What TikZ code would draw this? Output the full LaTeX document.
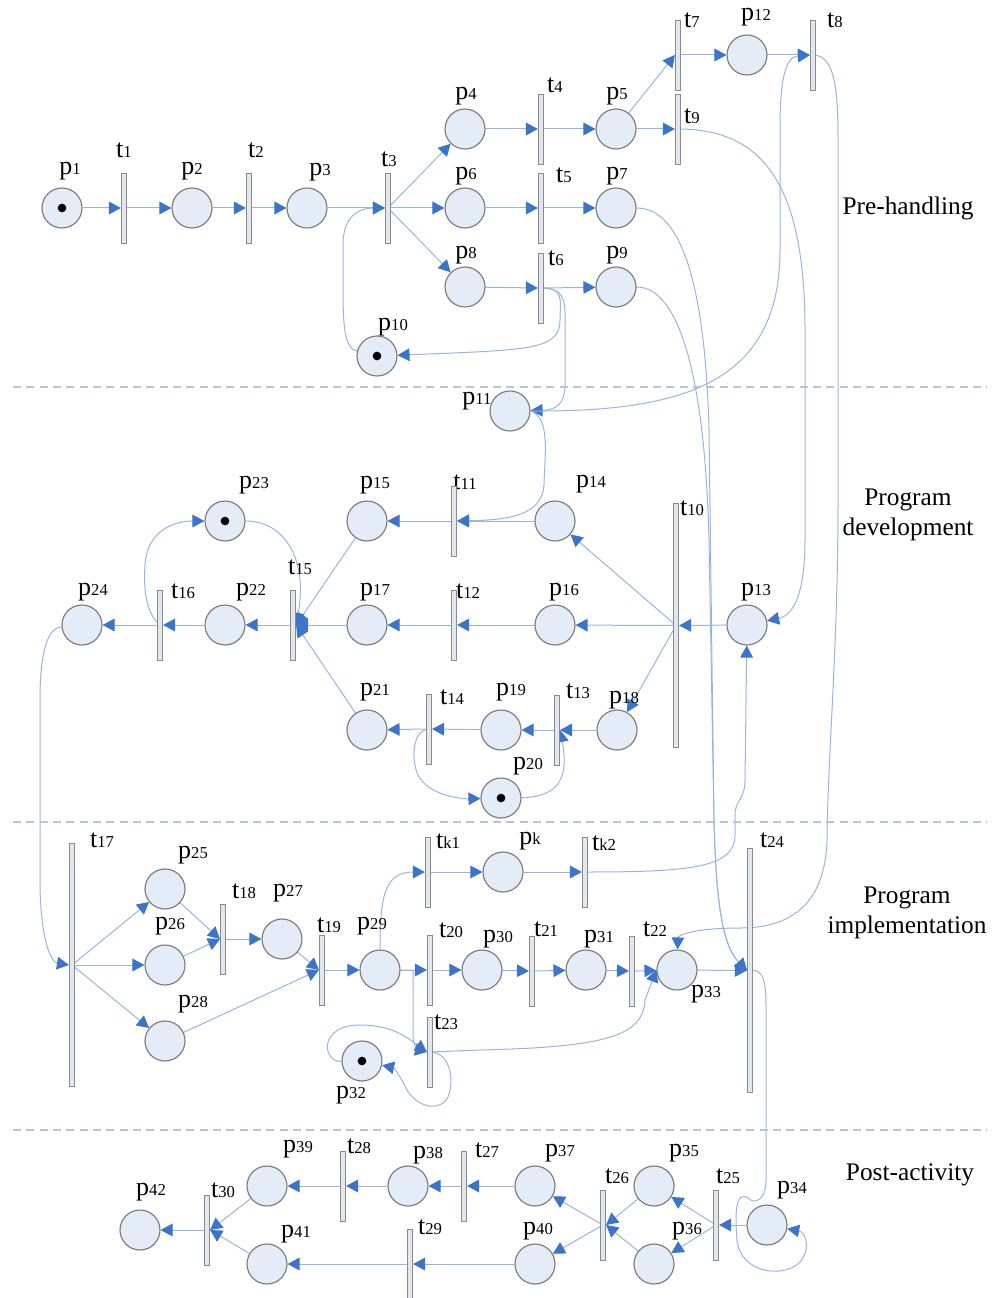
\documentclass[tikz,border=0pt]{standalone}
\usepackage{fontspec}
\setmainfont{Liberation Serif}
\usetikzlibrary{arrows.meta}
\pgfdeclarelayer{bg}
\pgfsetlayers{bg,main}
\definecolor{placefill}{HTML}{E4ECF7}
\definecolor{placeborder}{HTML}{7A7A7A}
\definecolor{transfill}{HTML}{E2E6EE}
\definecolor{transborder}{HTML}{8A8A8A}
\definecolor{arccol}{HTML}{98B5DF}
\definecolor{tipcol}{HTML}{3B74CA}
\definecolor{sepcol}{HTML}{B4C6DC}
\newcommand{\mysb}[1]{{\fontsize{12.5}{12.5}\selectfont #1}}
\begin{document}
\begin{tikzpicture}[x=0.75pt,y=-0.75pt,
  place/.style={circle, draw=placeborder, fill=placefill, line width=0.85pt, minimum size=30pt, inner sep=0pt},
  trans/.style={rectangle, draw=transborder, fill=transfill, line width=0.6pt, minimum width=4pt, minimum height=52.5pt, inner sep=0pt},
  longtrans/.style={trans, minimum height=182.5pt},
  tok/.style={circle, fill=black, minimum size=6.5pt, inner sep=0pt},
  arc/.style={draw=arccol, line width=0.75pt, -{Triangle[length=9pt,width=9.5pt,color=tipcol]}},
  lbl/.style={inner sep=0pt, font=\fontsize{19.5}{22}\selectfont},
  sect/.style={inner sep=0pt, align=center, font=\fontsize{19}{22.5}\selectfont},
  sep/.style={draw=sepcol, line width=0.8pt, dash pattern=on 6pt off 4pt}]
\useasboundingbox (0,0) rectangle (1003,1298);

% separators
\coordinate (s1a) at (13,387);  \coordinate (s1b) at (987,387);
\coordinate (s2a) at (13,822);  \coordinate (s2b) at (987,822);
\coordinate (s3a) at (13,1130); \coordinate (s3b) at (987,1130);
\draw[sep] (s1a) -- (s1b);
\draw[sep] (s2a) -- (s2b);
\draw[sep] (s3a) -- (s3b);

% section titles
\node[sect] (sec1) at (908,208) {Pre-handling};
\node[sect] (sec2) at (908,515) {Program\\development};
\node[sect] (sec3) at (907,913) {Program\\implementation};
\node[sect] (sec4) at (910,1175) {Post-activity};

% labels
\node[lbl] (lp1) at (70,171) {p\mysb{1}};
\node[lbl] (lt1) at (124,150) {t\mysb{1}};
\node[lbl] (lp2) at (192,171) {p\mysb{2}};
\node[lbl] (lt2) at (256,150) {t\mysb{2}};
\node[lbl] (lp3) at (320,172) {p\mysb{3}};
\node[lbl] (lt3) at (389,159) {t\mysb{3}};
\node[lbl] (lp4) at (466,96) {p\mysb{4}};
\node[lbl] (lp6) at (466,176) {p\mysb{6}};
\node[lbl] (lp8) at (466,255) {p\mysb{8}};
\node[lbl] (lp10) at (393,327) {p\mysb{10}};
\node[lbl] (lt4) at (555,85) {t\mysb{4}};
\node[lbl] (lp5) at (617,96) {p\mysb{5}};
\node[lbl] (lt5) at (564,175) {t\mysb{5}};
\node[lbl] (lp7) at (617,176) {p\mysb{7}};
\node[lbl] (lt6) at (556,258) {t\mysb{6}};
\node[lbl] (lp9) at (617,255) {p\mysb{9}};
\node[lbl] (lt7) at (692,20) {t\mysb{7}};
\node[lbl] (lp12) at (756,17) {p\mysb{12}};
\node[lbl] (lt8) at (835,20) {t\mysb{8}};
\node[lbl] (lt9) at (692,116) {t\mysb{9}};
\node[lbl] (lp11) at (477,401) {p\mysb{11}};
\node[lbl] (lp23) at (254,485) {p\mysb{23}};
\node[lbl] (lp15) at (375,485) {p\mysb{15}};
\node[lbl] (lt11) at (465,482) {t\mysb{11}};
\node[lbl] (lt15) at (300,567) {t\mysb{15}};
\node[lbl] (lp24) at (93,592) {p\mysb{24}};
\node[lbl] (lt16) at (183,591) {t\mysb{16}};
\node[lbl] (lp22) at (251,592) {p\mysb{22}};
\node[lbl] (lp17) at (375,592) {p\mysb{17}};
\node[lbl] (lt12) at (468,591) {t\mysb{12}};
\node[lbl] (lp21) at (375,692) {p\mysb{21}};
\node[lbl] (lt14) at (452,697) {t\mysb{14}};
\node[lbl] (lp14) at (591,484) {p\mysb{14}};
\node[lbl] (lt10) at (692,508) {t\mysb{10}};
\node[lbl] (lp16) at (564,592) {p\mysb{16}};
\node[lbl] (lp13) at (756,592) {p\mysb{13}};
\node[lbl] (lp19) at (511,692) {p\mysb{19}};
\node[lbl] (lt13) at (578,691) {t\mysb{13}};
\node[lbl] (lp18) at (624,700) {p\mysb{18}};
\node[lbl] (lp20) at (528,766) {p\mysb{20}};
\node[lbl] (lt17) at (102,840) {t\mysb{17}};
\node[lbl] (lp25) at (193,855) {p\mysb{25}};
\node[lbl] (lt18) at (244,891) {t\mysb{18}};
\node[lbl] (lp27) at (288,893) {p\mysb{27}};
\node[lbl] (lp26) at (170,926) {p\mysb{26}};
\node[lbl] (lt19) at (329,925) {t\mysb{19}};
\node[lbl] (lp29) at (372,926) {p\mysb{29}};
\node[lbl] (lp28) at (193,1004) {p\mysb{28}};
\node[lbl] (ltk1) at (448,841) {t\mysb{k1}};
\node[lbl] (lt20) at (451,930) {t\mysb{20}};
\node[lbl] (lt23) at (446,1022) {t\mysb{23}};
\node[lbl] (lp32) at (351,1095) {p\mysb{32}};
\node[lbl] (lp30) at (498,939) {p\mysb{30}};
\node[lbl] (lpk) at (530,841) {p\mysb{k}};
\node[lbl] (ltk2) at (604,843) {t\mysb{k2}};
\node[lbl] (lt21) at (546,929) {t\mysb{21}};
\node[lbl] (lp31) at (599,939) {p\mysb{31}};
\node[lbl] (lt22) at (655,929) {t\mysb{22}};
\node[lbl] (lp33) at (706,994) {p\mysb{33}};
\node[lbl] (lt24) at (772,840) {t\mysb{24}};
\node[lbl] (lp39) at (298,1149) {p\mysb{39}};
\node[lbl] (lt28) at (359,1146) {t\mysb{28}};
\node[lbl] (lp38) at (428,1155) {p\mysb{38}};
\node[lbl] (lt27) at (487,1150) {t\mysb{27}};
\node[lbl] (lp42) at (151,1192) {p\mysb{42}};
\node[lbl] (lt30) at (223,1190) {t\mysb{30}};
\node[lbl] (lp41) at (296,1234) {p\mysb{41}};
\node[lbl] (lt29) at (430,1227) {t\mysb{29}};
\node[lbl] (lp37) at (560,1153) {p\mysb{37}};
\node[lbl] (lt26) at (617,1176) {t\mysb{26}};
\node[lbl] (lp35) at (684,1153) {p\mysb{35}};
\node[lbl] (lt25) at (728,1176) {t\mysb{25}};
\node[lbl] (lp34) at (792,1190) {p\mysb{34}};
\node[lbl] (lp40) at (538,1231) {p\mysb{40}};
\node[lbl] (lp36) at (687,1231) {p\mysb{36}};

% places
\node[place] (p1) at (62,208) {};
\node[place] (p2) at (192,208) {};
\node[place] (p3) at (307,208) {};
\node[place] (p4) at (465,129) {};
\node[place] (p5) at (616,129) {};
\node[place] (p6) at (465,208) {};
\node[place] (p7) at (616,208) {};
\node[place] (p8) at (465,287) {};
\node[place] (p9) at (616,287) {};
\node[place] (p10) at (377,356) {};
\node[place] (p11) at (510,411) {};
\node[place] (p12) at (747,55) {};
\node[place] (p13) at (747,625) {};
\node[place] (p14) at (555,521) {};
\node[place] (p15) at (367,521) {};
\node[place] (p16) at (555,625) {};
\node[place] (p17) at (367,625) {};
\node[place] (p18) at (617,730) {};
\node[place] (p19) at (501,730) {};
\node[place] (p20) at (501,798) {};
\node[place] (p21) at (367,730) {};
\node[place] (p22) at (225,625) {};
\node[place] (p23) at (225,521) {};
\node[place] (p24) at (82,625) {};
\node[place] (p25) at (165,889) {};
\node[place] (p26) at (165,965) {};
\node[place] (p27) at (282,939) {};
\node[place] (p28) at (165,1041) {};
\node[place] (p29) at (380,970) {};
\node[place] (p30) at (482,970) {};
\node[place] (p31) at (586,970) {};
\node[place] (p32) at (362,1061) {};
\node[place] (p33) at (677,970) {};
\node[place] (pk) at (503,872) {};
\node[place] (p34) at (767,1225) {};
\node[place] (p35) at (654,1186) {};
\node[place] (p36) at (654,1264) {};
\node[place] (p37) at (535,1186) {};
\node[place] (p38) at (408,1186) {};
\node[place] (p39) at (267,1186) {};
\node[place] (p40) at (535,1264) {};
\node[place] (p41) at (267,1264) {};
\node[place] (p42) at (140,1230) {};

% tokens
\node[tok] (k1) at (p1) {};
\node[tok] (k10) at (p10) {};
\node[tok] (k20) at (p20) {};
\node[tok] (k23) at (p23) {};
\node[tok] (k32) at (p32) {};

% transitions
\node[trans] (t1) at (124,208) {};
\node[trans] (t2) at (249,208) {};
\node[trans] (t3) at (388,208) {};
\node[trans] (t4) at (541,129) {};
\node[trans] (t5) at (541,208) {};
\node[trans] (t6) at (541,288) {};
\node[trans] (t7) at (678,55) {};
\node[trans] (t8) at (813,55) {};
\node[trans] (t9) at (678,129) {};
\node[longtrans] (t10) at (676,625.5) {};
\node[trans] (t11) at (454,521) {};
\node[trans] (t12) at (454,625) {};
\node[trans] (t13) at (557,730) {};
\node[trans] (t14) at (429,729) {};
\node[trans] (t15) at (293,625) {};
\node[trans] (t16) at (160,625) {};
\node[longtrans] (t17) at (72,965) {};
\node[trans] (t18) at (223,939) {};
\node[trans] (t19) at (322,970) {};
\node[trans] (t20) at (430,970) {};
\node[trans] (t21) at (532,971) {};
\node[trans] (t22) at (632,971) {};
\node[trans] (t23) at (430,1052) {};
\node[longtrans] (t24) at (750,970.5) {};
\node[trans] (tk1) at (428,872) {};
\node[trans] (tk2) at (585,872) {};
\node[trans] (t25) at (716,1225) {};
\node[trans] (t26) at (603,1225) {};
\node[trans] (t27) at (464,1186) {};
\node[trans] (t28) at (343,1186) {};
\node[trans] (t29) at (410,1264) {};
\node[trans] (t30) at (207,1230) {};

\begin{pgfonlayer}{bg}
% ---- pre-handling
\draw[arc] (p1) -- (t1.west);
\draw[arc] (t1.east) -- (p2);
\draw[arc] (p2) -- (t2.west);
\draw[arc] (t2.east) -- (p3);
\draw[arc] (p3) -- (t3.west);
\draw[arc] (t3.center) -- (p4);
\draw[arc] (t3.east) -- (p6);
\draw[arc] (t3.center) -- (p8);
\draw[arc] (p4) -- (t4.west);
\draw[arc] (t4.east) -- (p5);
\draw[arc] (p6) -- (t5.west);
\draw[arc] (t5.east) -- (p7);
\draw[arc] (p8) -- (t6.west);
\draw[arc] (t6.east) -- (p9);
\draw[arc] (p5) -- (t7.west);
\draw[arc] (t7.east) -- (p12);
\draw[arc] (p12) -- (t8.west);
\draw[arc] (p5) -- (t9.west);
\draw[arc] (t6.center) .. controls (565,288) and (560,300) .. (560,320)
   .. controls (560,350) and (530,350) .. (p10);
\draw[arc] (t6.center) .. controls (568,288) and (565,305) .. (565,330)
   -- (565,385) .. controls (565,405) and (555,410) .. (p11);
\draw[arc] (p10) .. controls (343,348) and (343,320) .. (343,280)
   -- (343,245) .. controls (343,215) and (360,208) .. (t3.west);
\draw[arc] (t9.center) .. controls (760,129) and (805,180) .. (805,330)
   -- (805,540) .. controls (805,590) and (795,615) .. (p13);
\draw[arc] (p11.east) .. controls (680,412) and (780,385) .. (780,250)
   -- (780,130) .. controls (780,80) and (785,57) .. (t8.west);
\draw[arc] (t8.center) .. controls (835,55) and (838,90) .. (838,140)
   -- (838,500) .. controls (838,650) and (828,750) .. (827,840)
   .. controls (825,905) and (790,928) .. (740,928)
   .. controls (695,928) and (678,935) .. (p33);
\draw[arc] (p7) .. controls (680,208) and (705,280) .. (709,430)
   -- (714,820) .. controls (716,900) and (722,945) .. (t24.west);
\draw[arc] (p9) .. controls (680,287) and (705,380) .. (709,540)
   -- (714,820) .. controls (716,900) and (722,945) .. (t24.west);
% ---- program development
\draw[arc] (p13) -- (t10.east);
\draw[arc] (t10.center) -- (p14);
\draw[arc] (t10.west) -- (p16);
\draw[arc] (t10.center) -- (p18);
\draw[arc] (p14) -- (t11.east);
\draw[arc] (t11.west) -- (p15);
\draw[arc] (p16) -- (t12.east);
\draw[arc] (t12.west) -- (p17);
\draw[arc] (p18) -- (t13.east);
\draw[arc] (t13.west) -- (p19);
\draw[arc] (p19) -- (t14.east);
\draw[arc] (t14.west) -- (p21);
\draw[arc] (p15) -- (t15.east);
\draw[arc] (p17) -- (t15.east);
\draw[arc] (p21) -- (t15.east);
\draw[arc] (t15.west) -- (p22);
\draw[arc] (p22) -- (t16.east);
\draw[arc] (t16.west) -- (p24);
\draw[arc] (p11.east) .. controls (550,418) and (545,450) .. (544,485)
   .. controls (542,515) and (510,520) .. (t11.east);
\draw[arc] (t16.center) .. controls (148,615) and (143,595) .. (145,565)
   .. controls (147,530) and (175,521) .. (p23);
\draw[arc] (p23) .. controls (285,521) and (308,560) .. (t15.east);
\draw[arc] (t14.center) .. controls (412,730) and (411,760) .. (418,775)
   .. controls (428,795) and (460,799) .. (p20);
\draw[arc] (p20) .. controls (555,797) and (570,782) .. (t13.east);
\draw[arc] (p24) .. controls (48,628) and (40,650) .. (40,700)
   -- (40,880) .. controls (40,935) and (50,962) .. (t17.west);
% ---- program implementation
\draw[arc] (t17.center) -- (p25);
\draw[arc] (t17.east) -- (p26);
\draw[arc] (t17.center) -- (p28);
\draw[arc] (p25) -- (t18.west);
\draw[arc] (p26) -- (t18.west);
\draw[arc] (t18.east) -- (p27);
\draw[arc] (p27) -- (t19.west);
\draw[arc] (p28) -- (t19.west);
\draw[arc] (t19.east) -- (p29);
\draw[arc] (p29) -- (t20.west);
\draw[arc] (t20.east) -- (p30);
\draw[arc] (p30) -- (t21.west);
\draw[arc] (t21.east) -- (p31);
\draw[arc] (p31) -- (t22.west);
\draw[arc] (t22.east) -- (p33);
\draw[arc] (p33) -- (t24.west);
\draw[arc] (tk1.east) -- (pk);
\draw[arc] (pk) -- (tk2.west);
\draw[arc] (p29) .. controls (380,895) and (385,872) .. (tk1.west);
\draw[arc] (tk2.center) .. controls (690,872) and (735,868) .. (735,835)
   -- (735,815) .. controls (735,800) and (745,800) .. (745,780) -- (p13);
\draw[arc] (p29.east) -- (413,970) -- (413,1035)
   .. controls (413,1046) and (418,1050) .. (t23.west);
\draw[arc] (p32) .. controls (322,1062) and (318,1025) .. (360,1025)
   .. controls (395,1025) and (410,1040) .. (t23.west);
\draw[arc] (t23.center) .. controls (450,1052) and (455,1080) .. (448,1097)
   .. controls (440,1112) and (418,1108) .. (407,1090)
   .. controls (402,1080) and (395,1068) .. (p32);
\draw[arc] (t23.center) -- (480,1050) .. controls (610,1047) and (643,1035) .. (645,1000)
   -- (p33.west);
\draw[arc] (t24.center) .. controls (765,968) and (766,985) .. (766,1010)
   -- (766,1180) .. controls (766,1200) and (755,1205) .. (748,1198)
   .. controls (735,1190) and (735,1215) .. (737,1240)
   .. controls (740,1275) and (790,1280) .. (803,1258)
   .. controls (810,1245) and (805,1232) .. (p34);
% ---- post-activity
\draw[arc] (p34) -- (t25.east);
\draw[arc] (t25.center) -- (p35);
\draw[arc] (t25.center) -- (p36);
\draw[arc] (p35) -- (t26.east);
\draw[arc] (p36) -- (t26.east);
\draw[arc] (t26.center) -- (p37);
\draw[arc] (t26.center) -- (p40);
\draw[arc] (p37) -- (t27.east);
\draw[arc] (t27.west) -- (p38);
\draw[arc] (p38) -- (t28.east);
\draw[arc] (t28.west) -- (p39);
\draw[arc] (p40) -- (t29.east);
\draw[arc] (t29.west) -- (p41);
\draw[arc] (p39) -- (t30.east);
\draw[arc] (p41) -- (t30.east);
\draw[arc] (t30.west) -- (p42);
\end{pgfonlayer}
\end{tikzpicture}
\end{document}
